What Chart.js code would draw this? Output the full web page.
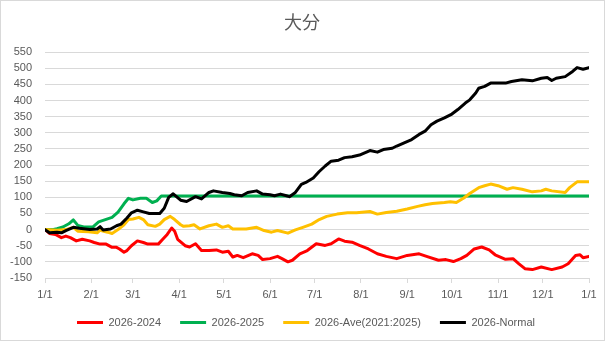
<!DOCTYPE html>
<html>
<head>
<meta charset="utf-8">
<script src="https://cdn.jsdelivr.net/npm/chart.js@4/dist/chart.umd.min.js"></script>
<style>
  html, body { margin: 0; padding: 0; background: #fff; }
  #wrap { width: 605px; height: 341px; box-sizing: border-box; border: 1px solid #d9d9d9; background: #fff; }
  canvas { display: block; }
</style>
</head>
<body>
<div id="wrap"><canvas id="c" width="603" height="339"></canvas></div>
<script>
// Title and series names
const chartTitle = "大分";
const seriesNames = ["2026-2024", "2026-2025", "2026-Ave(2021:2025)", "2026-Normal"];

// X-axis tick positions (day of year) and their labels
const monthDays = [0, 31, 59, 90, 120, 151, 181, 212, 243, 273, 304, 334, 365];
const monthLabels = ["1/1", "2/1", "3/1", "4/1", "5/1", "6/1", "7/1", "8/1", "9/1", "10/1", "11/1", "12/1", "1/1"];

// 2026-2024 (red)
const redDays = [0, 3, 7, 11, 14, 17, 21, 25, 30, 33, 37, 41, 45, 48, 50, 53, 55, 58, 62, 66, 69, 72, 76, 79, 82, 85, 87, 89, 94, 97, 101, 105, 110, 115, 119, 123, 126, 129, 133, 139, 143, 146, 151, 156, 159, 163, 166, 171, 176, 182, 188, 192, 197, 201, 206, 211, 217, 223, 229, 236, 243, 251, 256, 264, 269, 274, 279, 283, 288, 293, 298, 302, 309, 314, 318, 322, 327, 333, 340, 347, 351, 356, 359, 361, 365];
const redVals = [0, -12, -15, -25, -20, -25, -35, -30, -35, -40, -45, -45, -55, -55, -60, -70, -65, -50, -35, -40, -45, -45, -45, -30, -15, 5, -5, -30, -50, -54, -44, -65, -65, -63, -70, -67, -85, -80, -87, -75, -80, -93, -90, -83, -90, -100, -95, -75, -65, -44, -49, -44, -29, -36, -39, -49, -60, -75, -83, -90, -80, -75, -83, -95, -93, -99, -90, -80, -60, -54, -63, -78, -92, -90, -106, -121, -124, -116, -124, -116, -106, -80, -78, -87, -83];

// 2026-2025 (green)
const greenDays = [0, 5, 8, 12, 16, 19, 22, 26, 32, 36, 40, 45, 49, 53, 56, 59, 64, 68, 72, 75, 78, 365];
const greenVals = [0, 0, 3, 8, 18, 30, 13, 8, 8, 24, 30, 38, 54, 80, 97, 92, 97, 97, 84, 89, 104, 104];

// 2026-Ave(2021:2025) (orange)
const aveDays = [0, 8, 14, 19, 22, 29, 35, 37, 42, 45, 49, 53, 56, 59, 63, 66, 69, 74, 77, 80, 84, 87, 91, 93, 97, 100, 104, 110, 115, 119, 123, 126, 135, 142, 147, 152, 156, 163, 168, 173, 179, 184, 189, 196, 203, 209, 218, 223, 229, 236, 243, 250, 255, 260, 268, 272, 276, 281, 285, 291, 295, 299, 304, 310, 314, 320, 327, 333, 336, 340, 349, 352, 357, 365];
const aveVals = [0, -2, 0, 7, -5, -7, -10, -2, -8, -12, 0, 15, 31, 33, 38, 31, 15, 10, 17, 31, 41, 31, 15, 10, 12, 15, 2, 12, 17, 7, 12, 2, 2, 7, -3, -8, -3, -11, -1, 7, 17, 31, 41, 48, 52, 52, 56, 48, 53, 57, 64, 72, 77, 81, 84, 86, 84, 98, 112, 130, 136, 141, 136, 125, 130, 125, 117, 120, 125, 120, 115, 130, 148, 148];

// 2026-Normal (black)
const normDays = [0, 3, 8, 11, 14, 19, 23, 30, 35, 37, 39, 44, 48, 51, 55, 58, 62, 66, 70, 77, 80, 83, 86, 88, 91, 95, 101, 105, 110, 113, 119, 124, 127, 132, 136, 142, 146, 151, 154, 158, 162, 164, 168, 172, 175, 180, 184, 188, 192, 197, 201, 206, 211, 218, 223, 227, 233, 236, 241, 246, 251, 255, 259, 263, 268, 273, 277, 282, 285, 289, 291, 295, 299, 309, 313, 320, 327, 333, 337, 340, 343, 349, 354, 357, 361, 365];
const normVals = [0, -10, -8, -10, -3, 7, 4, 0, 2, 9, -1, 2, 12, 17, 36, 52, 60, 55, 50, 50, 66, 100, 111, 103, 91, 87, 102, 95, 115, 120, 115, 112, 108, 105, 115, 120, 110, 108, 105, 110, 105, 102, 115, 140, 146, 160, 180, 197, 212, 215, 223, 226, 231, 245, 240, 248, 252, 259, 269, 279, 295, 305, 325, 336, 346, 358, 372, 392, 402, 423, 438, 444, 454, 454, 459, 464, 461, 469, 471, 462, 469, 474, 490, 502, 497, 502];

const colors = ["#ff0000", "#00b050", "#ffc000", "#000000"];

function pts(days, vals) { return days.map((d, i) => ({ x: d, y: vals[i] })); }

const seriesData = [pts(redDays, redVals), pts(greenDays, greenVals), pts(aveDays, aveVals), pts(normDays, normVals)];

const font = { family: "'Liberation Sans', Arial, sans-serif", size: 11 };
const textColor = "#595959";
const gridColor = "#d9d9d9";

// Center title and legend on the whole canvas rather than the padded area
const centerShift = {
  id: "centerShift",
  afterLayout(chart) {
    if (chart.titleBlock) { chart.titleBlock.left += 7; chart.titleBlock.right += 7; }
    if (chart.legend) { chart.legend.left += 11; chart.legend.right += 11; }
  }
};

new Chart(document.getElementById("c"), {
  type: "line",
  data: {
    datasets: seriesNames.map((name, i) => ({
      label: name,
      data: seriesData[i],
      borderColor: colors[i],
      backgroundColor: colors[i],
      borderWidth: 3,
      pointRadius: 0,
      pointHoverRadius: 0,
      tension: 0,
      borderCapStyle: "round",
      borderJoinStyle: "round",
      fill: false,
      order: 3 - i
    }))
  },
  plugins: [centerShift],
  options: {
    responsive: false,
    animation: false,
    devicePixelRatio: 1,
    layout: { padding: { top: 10, right: 15, bottom: 12, left: 0 } },
    plugins: {
      tooltip: { enabled: false },
      title: {
        display: true,
        text: chartTitle,
        color: textColor,
        font: { family: "'Noto Sans CJK JP', sans-serif", size: 18, weight: "normal" },
        padding: { top: 0, bottom: 19.5 }
      },
      legend: {
        position: "bottom",
        maxHeight: 30,
        labels: {
          color: textColor,
          font: font,
          usePointStyle: true,
          pointStyle: "line",
          pointStyleWidth: 26,
          padding: 19,
          sort: (a, b) => a.datasetIndex - b.datasetIndex
        }
      }
    },
    scales: {
      x: {
        type: "linear",
        min: 0,
        max: 365,
        afterBuildTicks: (scale) => { scale.ticks = monthDays.map(v => ({ value: v })); },
        afterFit: (scale) => { scale.height = 20; },
        ticks: {
          autoSkip: false,
          maxRotation: 0,
          color: textColor,
          font: font,
          padding: 5,
          callback: (v) => { const k = monthDays.indexOf(v); return k >= 0 ? monthLabels[k] : ""; }
        },
        grid: { drawOnChartArea: false, drawTicks: true, tickLength: 5, color: gridColor },
        border: { display: true, color: gridColor }
      },
      y: {
        min: -150,
        max: 550,
        afterFit: (scale) => { scale.width = 44; },
        ticks: { stepSize: 50, autoSkip: false, color: textColor, font: font, padding: 13 },
        grid: { color: gridColor, drawTicks: false },
        border: { display: false }
      }
    }
  }
});
</script>
</body>
</html>
